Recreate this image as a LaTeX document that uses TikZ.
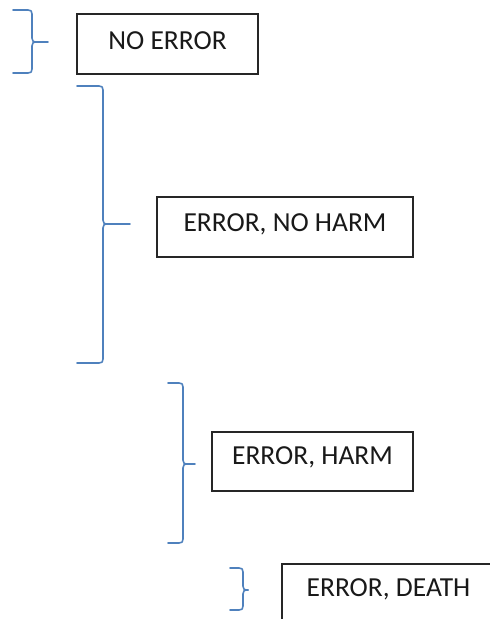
\documentclass[tikz,border=0pt]{standalone}
\usepackage{fontspec}
\setmainfont{Carlito}
\begin{document}
\begin{tikzpicture}[x=1pt,y=-1pt,
  box/.style={draw=black!85,line width=1.8pt,rectangle,inner sep=0pt,
    font=\fontsize{27.5}{31}\selectfont,text=black!90},
  bracecol/.style={draw={rgb,255:red,79;green,129;blue,189},line width=1.6pt,line cap=round,line join=round}]
\useasboundingbox (0,0) rectangle (490,619);
\clip (0,0) rectangle (490,619);

% brace: left x, top y, bottom y, spine x, tip y, tip end x
\newcommand\drawbrace[6]{%
  \draw[bracecol] (#1,#2) -- (#4-4,#2) .. controls (#4-1,#2) and (#4,#2+1) .. (#4,#2+4)
    -- (#4,#5-4) .. controls (#4,#5-1) and (#4+1,#5) .. (#4+5,#5) -- (#6,#5);
  \draw[bracecol] (#4+5,#5) .. controls (#4+1,#5) and (#4,#5+1) .. (#4,#5+4)
    -- (#4,#3-4) .. controls (#4,#3-1) and (#4-1,#3) .. (#4-4,#3) -- (#1,#3);
}

% outcome boxes
\node[box,minimum width=181pt,minimum height=60pt,text depth=6pt] (noerror) at (167.5,44) {NO ERROR};
\node[box,minimum width=256pt,minimum height=60pt,text depth=8pt] (noharm) at (285,227) {ERROR, NO HARM\hspace{6pt}};
\node[box,minimum width=201pt,minimum height=59pt,text depth=12pt] (harm) at (312.5,461.5) {ERROR, HARM};
\node[box,minimum width=213pt,minimum height=60pt,text depth=12pt] (death) at (388.5,594) {ERROR, DEATH};

% grouping braces
\drawbrace{13}{10}{73}{32}{42}{48}
\drawbrace{77}{86}{363}{103}{224}{130}
\drawbrace{168}{383}{543}{183}{464}{195}
\drawbrace{230}{568}{610}{243}{590}{247}
\end{tikzpicture}
\end{document}
